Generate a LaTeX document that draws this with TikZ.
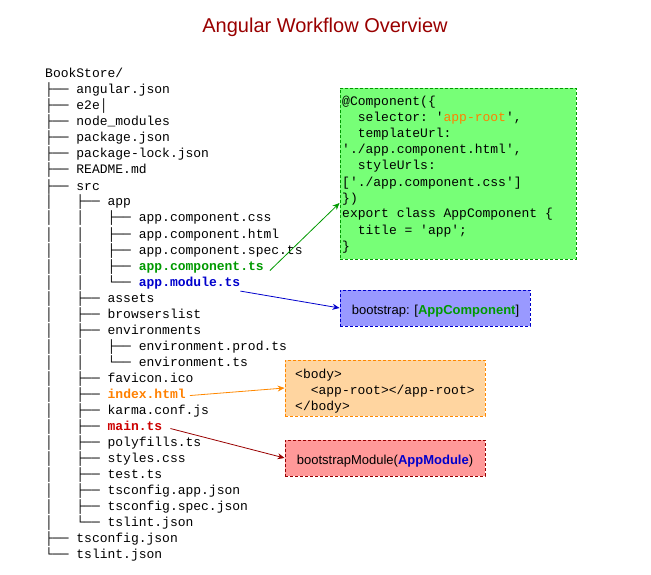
\documentclass[tikz,border=0pt]{standalone}
\usepackage{fontspec}
\setmainfont{Liberation Sans}
\setsansfont{Liberation Sans}
\setmonofont{Liberation Mono}
\usetikzlibrary{arrows.meta}
\definecolor{titlered}{HTML}{990000}
\definecolor{gfill}{HTML}{77FF77}
\definecolor{gline}{HTML}{009900}
\definecolor{bfill}{HTML}{9999FF}
\definecolor{bline}{HTML}{0000CC}
\definecolor{ofill}{HTML}{FFD5A0}
\definecolor{oline}{HTML}{FF8800}
\definecolor{rfill}{HTML}{FF9999}
\definecolor{rline}{HTML}{990000}
\definecolor{tgreen}{HTML}{009900}
\definecolor{tblue}{HTML}{0000CC}
\definecolor{torange}{HTML}{FF8000}
\definecolor{tred}{HTML}{CC0000}
\newcommand\trB{├──\ }
\newcommand\trL{└──\ }
\newcommand\trV{│\ \ \ }
\newcommand\trS{\ \ \ \ }
\begin{document}
\begin{tikzpicture}[x=1pt,y=-1pt,
  tree/.style={anchor=base west,inner sep=0pt,font=\ttfamily\fontsize{13}{16}\selectfont},
  code/.style={anchor=base west,inner sep=0pt,font=\ttfamily\fontsize{13}{16}\selectfont},
  stext/.style={anchor=base,inner sep=0pt,font=\sffamily\fontsize{13}{16}\selectfont},
  box/.style={draw,line width=0.9pt,dash pattern=on 3pt off 2pt,inner sep=0pt},
  conn/.style={line width=0.8pt,-{Stealth[length=7pt,width=6pt]}}
]
\useasboundingbox (0,0) rectangle (651,575);
\node[anchor=base,inner sep=0pt,font=\sffamily\fontsize{20}{24}\selectfont,text=titlered] (title) at (325,33) {Angular Workflow Overview};

\node[tree] (l0) at (45,78) {BookStore/};
\node[tree] (l1) at (45,94) {\trB angular.json};
\node[tree] (l2) at (45,110) {\trB e2e│};
\node[tree] (l3) at (45,126) {\trB node\_modules};
\node[tree] (l4) at (45,142) {\trB package.json};
\node[tree] (l5) at (45,158) {\trB package-lock.json};
\node[tree] (l6) at (45,174) {\trB README.md};
\node[tree] (l7) at (45,190) {\trB src};
\node[tree] (l8) at (45,206) {\trV\trB app};
\node[tree] (l9) at (45,222) {\trV\trV\trB app.component.css};
\node[tree] (l10) at (45,238) {\trV\trV\trB app.component.html};
\node[tree] (l11) at (45,254) {\trV\trV\trB app.component.spec.ts};
\node[tree] (l12) at (45,270) {\trV\trV\trB \textbf{\textcolor{tgreen}{app.component.ts}}};
\node[tree] (l13) at (45,286) {\trV\trV\trL \textbf{\textcolor{tblue}{app.module.ts}}};
\node[tree] (l14) at (45,302) {\trV\trB assets};
\node[tree] (l15) at (45,318) {\trV\trB browserslist};
\node[tree] (l16) at (45,334) {\trV\trB environments};
\node[tree] (l17) at (45,350) {\trV\trV\trB environment.prod.ts};
\node[tree] (l18) at (45,366) {\trV\trV\trL environment.ts};
\node[tree] (l19) at (45,382) {\trV\trB favicon.ico};
\node[tree] (l20) at (45,398) {\trV\trB \textbf{\textcolor{torange}{index.html}}};
\node[tree] (l21) at (45,414) {\trV\trB karma.conf.js};
\node[tree] (l22) at (45,430) {\trV\trB \textbf{\textcolor{tred}{main.ts}}};
\node[tree] (l23) at (45,446) {\trV\trB polyfills.ts};
\node[tree] (l24) at (45,462) {\trV\trB styles.css};
\node[tree] (l25) at (45,478) {\trV\trB test.ts};
\node[tree] (l26) at (45,494) {\trV\trB tsconfig.app.json};
\node[tree] (l27) at (45,510) {\trV\trB tsconfig.spec.json};
\node[tree] (l28) at (45,526) {\trV\trL tslint.json};
\node[tree] (l29) at (45,542) {\trB tsconfig.json};
\node[tree] (l30) at (45,558) {\trL tslint.json};

% green box
\node[box,draw=gline,fill=gfill,minimum width=236pt,minimum height=171pt] (gbox) at (458,173.5) {};
\node[code] (g1) at (342,106) {@Component(\{};
\node[code] (g2) at (342,122) {\ \ selector: '\textcolor{torange}{app-root}',};
\node[code] (g3) at (342,138) {\ \ templateUrl:};
\node[code] (g4) at (342,154) {'./app.component.html',};
\node[code] (g5) at (342,170) {\ \ styleUrls:};
\node[code] (g6) at (342,186) {['./app.component.css']};
\node[code] (g7) at (342,202) {\})};
\node[code] (g8) at (342,218) {export class AppComponent \{};
\node[code] (g9) at (342,234) {\ \ title = 'app';};
\node[code] (g10) at (342,250) {\}};

% blue box
\node[box,draw=bline,fill=bfill,minimum width=190pt,minimum height=36pt] (bbox) at (435,308) {};
\node[stext] (btext) at (435.5,314) {bootstrap: [\textbf{\textcolor{tgreen}{AppComponent}}]};

% orange box
\node[box,draw=oline,fill=ofill,minimum width=200pt,minimum height=56pt] (obox) at (385,388) {};
\node[code] (o1) at (295,378) {<body>};
\node[code] (o2) at (295,394) {\ \ <app-root></app-root>};
\node[code] (o3) at (295,410) {</body>};

% red box
\node[box,draw=rline,fill=rfill,minimum width=200pt,minimum height=36pt] (rbox) at (385,458) {};
\node[stext] (rtext) at (385,464) {bootstrapModule(\textbf{\textcolor{tblue}{AppModule}})};

% connectors
\draw[conn,color=gline] ([xshift=6pt,yshift=-4pt]l12.east) -- (gbox.west |- 0,203);
\draw[conn,color=bline] ([yshift=-1pt]l13.south east) -- (bbox.west);
\draw[conn,color=oline] ([xshift=4pt,yshift=-1pt]l20.east) -- (obox.west);
\draw[conn,color=rline] ([xshift=8pt,yshift=-2pt]l22.east) -- (rbox.west);
\end{tikzpicture}
\end{document}
